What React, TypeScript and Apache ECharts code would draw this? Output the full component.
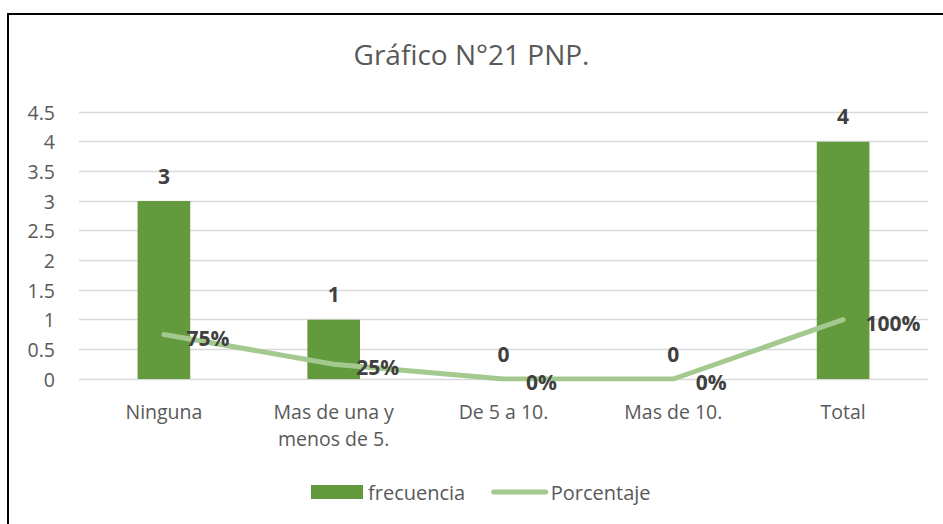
import React, { useEffect, useRef } from "react";
import * as echarts from "echarts";

const categories = ["Ninguna", "Mas de una y\nmenos de 5.", "De 5 a 10.", "Mas de 10.", "Total"];
const frecuencia = [3, 1, 0, 0, 4];
const porcentaje = [0.75, 0.25, 0, 0, 1];
const porcentajeLabels = ["75%", "25%", "0%", "0%", "100%"];
const yTicks = { min: 0, max: 4.5, interval: 0.5 };

const FONT = "'Open Sans', 'Noto Sans', sans-serif";

export default function App() {
  const ref = useRef<HTMLDivElement>(null);
  useEffect(() => {
    if (!ref.current) return;
    const chart = echarts.init(ref.current, undefined, { renderer: "svg" });
    chart.setOption({
      animation: false,
      textStyle: { fontFamily: FONT },
      title: {
        text: "Gráfico N°21 PNP.",
        left: "center",
        top: 35,
        textStyle: { fontFamily: FONT, fontSize: 28, fontWeight: "normal", color: "#595959" },
      },
      graphic: [
        {
          type: "polyline",
          shape: { points: [[8, 600], [8, 14], [960, 14]] },
          style: { stroke: "#000", lineWidth: 2, fill: null },
          z: 100,
        },
      ],
      grid: { left: 79, right: 15, top: 112, bottom: 145, containLabel: false },
      xAxis: {
        type: "category",
        data: categories,
        axisLine: { show: false },
        axisTick: { show: false },
        axisLabel: {
          interval: 0,
          margin: 19,
          fontFamily: FONT,
          fontSize: 19.5,
          color: "#595959",
          lineHeight: 27,
        },
      },
      yAxis: {
        type: "value",
        min: yTicks.min,
        max: yTicks.max,
        interval: yTicks.interval,
        axisLine: { show: false },
        axisTick: { show: false },
        splitLine: { lineStyle: { color: "#d9d9d9", width: 1.3 } },
        axisLabel: { margin: 24, fontFamily: FONT, fontSize: 19.5, color: "#595959" },
      },
      legend: {
        bottom: 17,
        left: 306,
        itemWidth: 52,
        itemHeight: 14,
        itemGap: 26,
        itemTextGap: 6,
        textStyle: { fontFamily: FONT, fontSize: 20, color: "#595959" },
        data: [
          { name: "frecuencia", icon: "rect" },
          {
            name: "Porcentaje",
            itemStyle: { opacity: 0 },
            lineStyle: { width: 5, color: "#a3c98f", cap: "round" },
          },
        ],
      },
      series: [
        {
          name: "frecuencia",
          type: "bar",
          data: frecuencia,
          barWidth: "31%",
          itemStyle: { color: "#629a3d" },
          label: {
            show: true,
            position: "top",
            distance: 15,
            fontFamily: FONT,
            fontSize: 21,
            fontWeight: "bold",
            color: "#404040",
          },
        },
        {
          name: "Porcentaje",
          type: "line",
          data: porcentaje,
          symbol: "circle",
          symbolSize: 1,
          itemStyle: { color: "#a3c98f" },
          lineStyle: { color: "#a3c98f", width: 5, cap: "round", join: "round" },
          z: 3,
          label: {
            show: true,
            position: "right",
            distance: 22,
            offset: [0, 3],
            fontFamily: FONT,
            fontSize: 21,
            fontWeight: "bold",
            color: "#404040",
            formatter: (p: any) => porcentajeLabels[p.dataIndex],
          },
        },
      ],
    });
    return () => chart.dispose();
  }, []);
  return (
    <div
      ref={ref}
      style={{ position: "fixed", left: 0, top: 0, width: 943, height: 524, background: "#fff" }}
    />
  );
}
